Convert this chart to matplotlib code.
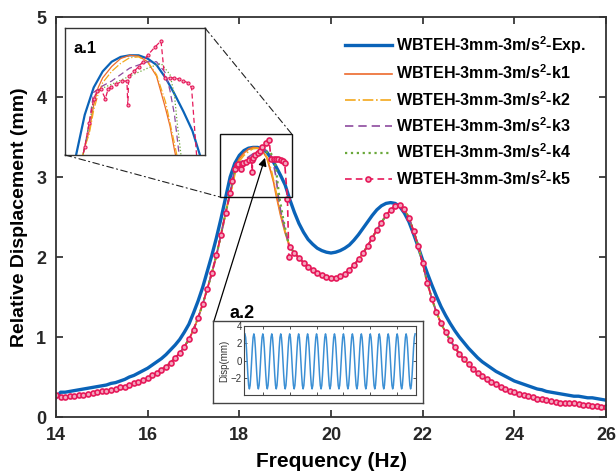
import numpy as np
import matplotlib
matplotlib.use('Agg')
import matplotlib.pyplot as plt
from matplotlib.patches import Rectangle, ConnectionPatch

plt.rcParams['font.family'] = ['Liberation Sans', 'DejaVu Sans']
plt.rcParams['mathtext.fontset'] = 'custom'
plt.rcParams['mathtext.rm'] = 'Liberation Sans:bold'
plt.rcParams['mathtext.it'] = 'Liberation Sans:bold'
plt.rcParams['mathtext.bf'] = 'Liberation Sans:bold'

# frequency grid (Hz), 0.1 Hz steps
freq = np.round(np.arange(140, 261) / 10, 1)

# measured response (Exp.)
exp_disp = [
    0.24, 0.31, 0.31, 0.32, 0.33, 0.34, 0.35, 0.36, 0.37, 0.38,
    0.39, 0.40, 0.42, 0.43, 0.45, 0.47, 0.50, 0.52, 0.55, 0.58,
    0.61, 0.65, 0.69, 0.73, 0.78, 0.84, 0.90, 0.97, 1.06, 1.16,
    1.30, 1.45, 1.62, 1.82, 2.02, 2.24, 2.48, 2.74, 3.00, 3.17,
    3.27, 3.33, 3.36, 3.37, 3.37, 3.35, 3.31, 3.23, 3.13, 3.02,
    2.90, 2.72, 2.56, 2.42, 2.31, 2.22, 2.16, 2.11, 2.08, 2.06,
    2.05, 2.06, 2.08, 2.11, 2.15, 2.21, 2.28, 2.36, 2.44, 2.52,
    2.59, 2.64, 2.67, 2.68, 2.67, 2.63, 2.55, 2.44, 2.29, 2.13,
    1.96, 1.80, 1.65, 1.51, 1.38, 1.27, 1.17, 1.08, 1.00, 0.93,
    0.86, 0.80, 0.74, 0.69, 0.65, 0.61, 0.57, 0.54, 0.51, 0.48,
    0.45, 0.43, 0.41, 0.39, 0.37, 0.35, 0.34, 0.32, 0.31, 0.30,
    0.29, 0.28, 0.27, 0.26, 0.26, 0.25, 0.24, 0.24, 0.23, 0.22,
    0.21,
]

# model response shared by k1..k5 outside the first peak (14.0-17.8 and 19.1-26.0 Hz)
model_low = [
    0.27, 0.25, 0.25, 0.26, 0.26, 0.27, 0.28, 0.29, 0.30, 0.31,
    0.32, 0.33, 0.34, 0.35, 0.37, 0.38, 0.40, 0.42, 0.44, 0.46,
    0.49, 0.52, 0.55, 0.59, 0.63, 0.68, 0.74, 0.80, 0.88, 0.97,
    1.09, 1.24, 1.41, 1.60, 1.80, 2.02, 2.28, 2.55, 2.80,
]
model_high = [
    2.13, 2.05, 1.99, 1.93, 1.88, 1.84, 1.80, 1.77, 1.75,
    1.74, 1.74, 1.76, 1.79, 1.84, 1.90, 1.97, 2.05, 2.14, 2.24,
    2.34, 2.43, 2.52, 2.59, 2.64, 2.65, 2.60, 2.49, 2.33, 2.14,
    1.92, 1.68, 1.48, 1.31, 1.17, 1.06, 0.96, 0.87, 0.79, 0.72,
    0.66, 0.60, 0.55, 0.51, 0.47, 0.44, 0.41, 0.38, 0.35, 0.33,
    0.31, 0.29, 0.28, 0.26, 0.25, 0.23, 0.22, 0.21, 0.20, 0.19,
    0.18, 0.18, 0.17, 0.17, 0.16, 0.15, 0.15, 0.14, 0.14, 0.13,
    0.13,
]

# first-peak region, one set per stiffness model
k1_peak_f = [17.85, 17.9, 17.95, 18.0, 18.1, 18.2, 18.3, 18.4, 18.5, 18.6, 18.7, 18.75, 18.8, 18.9, 19.0]
k1_peak_d = [2.90, 3.06, 3.17, 3.23, 3.30, 3.35, 3.37, 3.365, 3.33, 3.24, 3.04, 2.93, 2.78, 2.52, 2.30]
k2_peak_f = [17.85, 17.9, 17.95, 18.0, 18.1, 18.2, 18.3, 18.4, 18.5, 18.6, 18.7, 18.8, 18.9, 19.0]
k2_peak_d = [2.88, 3.03, 3.13, 3.20, 3.27, 3.32, 3.355, 3.36, 3.33, 3.25, 3.08, 2.82, 2.55, 2.32]
k3_peak_f = [17.85, 17.9, 18.0, 18.1, 18.2, 18.3, 18.4, 18.5, 18.6, 18.7, 18.75, 18.8, 18.85, 18.9, 19.0]
k3_peak_d = [2.95, 3.14, 3.18, 3.21, 3.25, 3.29, 3.31, 3.33, 3.33, 3.26, 3.15, 3.00, 2.76, 2.58, 2.33]
k4_peak_f = [17.85, 17.93, 18.1, 18.3, 18.5, 18.65, 18.75, 18.8, 18.83, 18.87, 18.95, 19.05]
k4_peak_d = [2.95, 3.15, 3.19, 3.24, 3.29, 3.32, 3.25, 3.12, 2.95, 2.76, 2.50, 2.22]
k5_peak_f = [17.85, 17.9, 17.94, 17.98, 18.03, 18.06, 18.09, 18.15, 18.22, 18.27,
             18.28, 18.29, 18.35, 18.4, 18.45, 18.5, 18.58, 18.65, 18.69, 18.75,
             18.8, 18.85, 18.9, 18.95, 18.99, 19.05, 19.08]
k5_peak_d = [2.95, 3.10, 3.15, 3.16, 3.10, 3.16, 3.17, 3.19, 3.21, 3.21,
             3.06, 3.24, 3.27, 3.30, 3.33, 3.37, 3.42, 3.46, 3.23, 3.23,
             3.23, 3.22, 3.21, 3.20, 3.17, 2.72, 2.00]

# time signal of inset a.2: one period as read, repeated
disp_cycle = [3.1, 2.7, 1.55, 0.0, -1.6, -2.8, -3.2, -2.8, -1.6, 0.0, 1.55, 2.7]
n_cycles = 19

freq_low = freq[:39]
freq_high = freq[51:]


def model_curve(peak_f, peak_d):
    f = np.concatenate([freq_low, peak_f, freq_high])
    d = np.concatenate([model_low, peak_d, model_high])
    return f, d


labels = ['WBTEH-3mm-3m/s$^2$-Exp.', 'WBTEH-3mm-3m/s$^2$-k1', 'WBTEH-3mm-3m/s$^2$-k2',
          'WBTEH-3mm-3m/s$^2$-k3', 'WBTEH-3mm-3m/s$^2$-k4', 'WBTEH-3mm-3m/s$^2$-k5']
curves = [(freq, np.array(exp_disp)),
          model_curve(k1_peak_f, k1_peak_d),
          model_curve(k2_peak_f, k2_peak_d),
          model_curve(k3_peak_f, k3_peak_d),
          model_curve(k4_peak_f, k4_peak_d),
          model_curve(k5_peak_f, k5_peak_d)]
styles = [
    dict(color='#0a63b8', ls='-', lw=2.4),
    dict(color='#ec6a2c', ls='-', lw=1.2),
    dict(color='#f4a81c', ls='-.', lw=1.2),
    dict(color='#8d4a9e', ls=(0, (5, 3)), lw=1.2),
    dict(color='#6aa83a', ls=':', lw=1.6),
    dict(color='#e6195a', ls=(0, (4, 2.5)), lw=1.2, marker='o', ms=3.6,
         mfc='#f3a6bd', mew=1.2),
]

fig = plt.figure(figsize=(6.16, 4.75), dpi=100)
ax = fig.add_axes([0.0909, 0.1221, 0.8929, 0.8421])

for (f, d), st, lab in zip(curves, styles, labels):
    ax.plot(f, d, label=lab, **st)

ax.set_xlim(14, 26)
ax.set_ylim(0, 5)
ax.set_xticks([14, 16, 18, 20, 22, 24, 26])
ax.set_yticks([0, 1, 2, 3, 4, 5])
ax.tick_params(direction='in', top=True, right=True, length=5, width=1.2,
               labelsize=13, colors='#262626', pad=7)
for t in ax.get_xticklabels() + ax.get_yticklabels():
    t.set_fontweight('bold')
for sp in ax.spines.values():
    sp.set_color('#333333')
    sp.set_linewidth(1.3)
ax.set_xlabel('Frequency (Hz)', fontsize=15, fontweight='bold', labelpad=6)
ax.set_ylabel('Relative Displacement (mm)', fontsize=14, fontweight='bold', labelpad=6)

leg = ax.legend(loc='upper left', bbox_to_anchor=(0.52, 0.965), frameon=False,
                prop=dict(size=11.5, weight='bold'), handlelength=2.9, handletextpad=0.3,
                labelspacing=0.48, borderaxespad=0, borderpad=0.2)

# zoom window
x0, x1, y0, y1 = 17.58, 19.14, 2.75, 3.54
ax.add_patch(Rectangle((x0, y0), x1 - x0, y1 - y0, fill=False, ec='#111111', lw=1.0, zorder=10))

# inset a.1
ax1 = fig.add_axes([0.1055, 0.6737, 0.2273, 0.2674])
in_styles = [dict(st) for st in styles]
in_styles[0]['lw'] = 1.6
for st in in_styles[1:]:
    st['lw'] = 0.9
in_styles[5]['ms'] = 2.2
in_styles[5]['mew'] = 0.8
for (f, d), st in zip(curves, in_styles):
    ax1.plot(f, d, **st)
ax1.set_xlim(x0, x1)
ax1.set_ylim(y0, y1)
ax1.set_xticks([])
ax1.set_yticks([])
for sp in ax1.spines.values():
    sp.set_color('#333333')
    sp.set_linewidth(1.0)
ax1.text(0.06, 0.9, 'a.1', transform=ax1.transAxes, fontsize=12, fontweight='bold', va='top')

for xa, xb in [((1, 1), (x1, y1)), ((0, 0), (x0, y0))]:
    con = ConnectionPatch(xyA=xa, coordsA='axes fraction', axesA=ax1,
                          xyB=xb, coordsB='data', axesB=ax,
                          ls=(0, (6, 3, 1, 3)), color='#222222', lw=0.8)
    fig.add_artist(con)

# inset a.2
outer = fig.add_axes([0.3458, 0.1516, 0.3409, 0.1726])
outer.set_xticks([])
outer.set_yticks([])
for sp in outer.spines.values():
    sp.set_color('#444444')
    sp.set_linewidth(1.0)

ax2 = fig.add_axes([0.3961, 0.1684, 0.2792, 0.1453])
sig = np.append(np.tile(disp_cycle, n_cycles), disp_cycle[0])
t = np.arange(len(sig)) / len(disp_cycle)
ax2.plot(t, sig, color='#3b8fd4', lw=1.1)
ax2.set_xlim(-0.1, n_cycles + 0.1)
ax2.set_ylim(-3.9, 4)
ax2.set_yticks([-2, 0, 2, 4])
ax2.set_xticks([2, 5, 8, 11, 14, 17])
ax2.set_xticklabels([])
ax2.tick_params(direction='in', labelsize=7, length=2, width=0.6, pad=1.5, colors='#333333', top=True, right=True)
ax2.set_ylabel('Disp(mm)', fontsize=7, labelpad=1, color='#333333')
for sp in ax2.spines.values():
    sp.set_color('#444444')
    sp.set_linewidth(0.8)

fig.text(229 / 616, 1 - 318 / 475, 'a.2', fontsize=13, fontweight='bold', va='baseline')

ax.annotate('', xy=(18.56, 3.24), xycoords='data',
            xytext=(214 / 616, 1 - 321 / 475), textcoords='figure fraction',
            arrowprops=dict(arrowstyle='-|>', color='black', lw=0.9, mutation_scale=12,
                            shrinkA=0, shrinkB=0),
            annotation_clip=False, zorder=12)

fig.savefig('out.png', dpi=100)
